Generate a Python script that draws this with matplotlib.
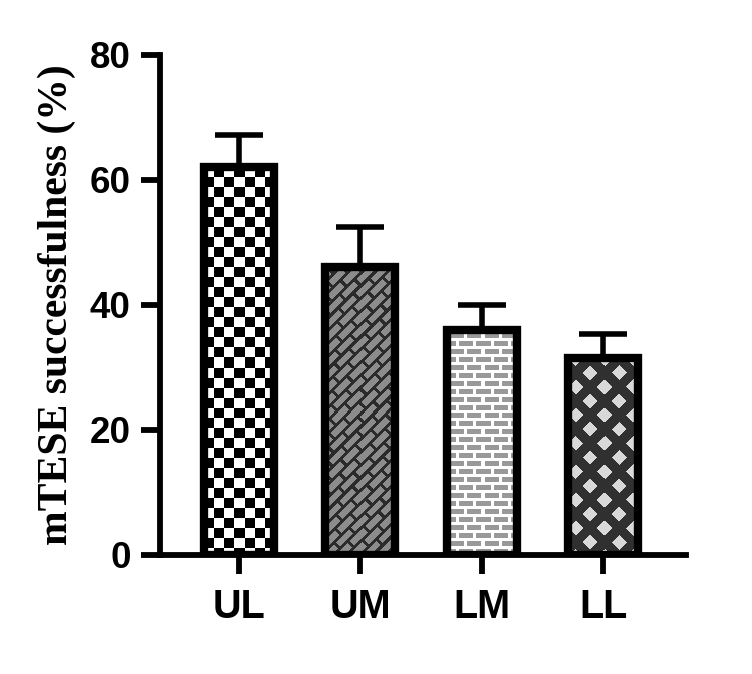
import numpy as np
import matplotlib
matplotlib.use("Agg")
import matplotlib.pyplot as plt

# data ---------------------------------------------------------------
regions = ["UL", "UM", "LM", "LL"]
success = [62, 46, 36, 31.5]
sem = [5.2, 6.5, 4.0, 3.8]
y_ticks = [0, 20, 40, 60, 80]


# fill patterns (pixel based) ----------------------------------------
def checker(h, w, cell=10):
    r, c = np.mgrid[0:h, 0:w]
    dark = ((r // cell + c // cell) % 2) == 1
    img = np.ones((h, w, 3))
    img[dark] = 0.0
    return img


def diag_bricks(h, w, L=21, H=9, t=3):
    r, c = np.mgrid[0:h, 0:w].astype(float)
    a = (c - r) / np.sqrt(2)
    b = (c + r) / np.sqrt(2)
    k = np.floor(b / H)
    fb = b % H
    fa = (a + k * L / 2) % L
    dark = (fb < t) | (fa < t)
    img = np.empty((h, w, 3))
    img[:] = 0.55
    img[dark] = 0.17
    return img


def h_bricks(h, w, L=17, H=8, tw=3, th=3):
    r, c = np.mgrid[0:h, 0:w]
    k = r // H
    fr = r % H
    fc = (c + (k % 2) * (L // 2)) % L
    mortar = (fr < th) | (fc < tw)
    img = np.empty((h, w, 3))
    img[:] = 0.60
    img[mortar] = 1.0
    return img


def diamonds(h, w, p=20, s=10.5):
    r, c = np.mgrid[0:h, 0:w].astype(float)
    a = (c + r) / np.sqrt(2)
    b = (c - r) / np.sqrt(2)
    light = ((a % p) < s) & ((b % p) < s)
    img = np.empty((h, w, 3))
    img[:] = 0.19
    img[light] = 0.85
    return img


patterns = [checker, diag_bricks, h_bricks, diamonds]

plt.rcParams["font.family"] = ["Liberation Sans", "DejaVu Sans"]

fig = plt.figure(figsize=(7.52, 6.74), dpi=100)
ax = fig.add_axes([0.2128, 0.1766, 0.6995, 0.7418])

x = np.arange(len(regions))
bars = ax.bar(x, success, width=0.577, facecolor="none", edgecolor="black",
              linewidth=6, zorder=3)
ax.errorbar(x, success, yerr=[np.zeros(len(sem)), sem], fmt="none",
            ecolor="black", elinewidth=4, capsize=17.5, capthick=4, zorder=2)

ax.set_xlim(-0.651, 3.684)
ax.set_ylim(0, 80)

# pattern images clipped to each bar
fig.canvas.draw()
for bar, pat in zip(bars, patterns):
    x0, y0 = bar.get_x(), bar.get_y()
    x1, y1 = x0 + bar.get_width(), y0 + bar.get_height()
    p0 = ax.transData.transform((x0, y0))
    p1 = ax.transData.transform((x1, y1))
    w = int(round(abs(p1[0] - p0[0])))
    h = int(round(abs(p1[1] - p0[1])))
    img = pat(h, w)
    im = ax.imshow(img, extent=(x0, x1, y0, y1), origin="upper",
                   interpolation="nearest", aspect="auto", zorder=2.5)
    im.set_clip_path(bar)

ax.set_xlim(-0.651, 3.684)
ax.set_ylim(0, 80)

for side in ["top", "right"]:
    ax.spines[side].set_visible(False)
for side in ["left", "bottom"]:
    ax.spines[side].set_linewidth(4.2)

ax.set_yticks(y_ticks)
ax.set_xticks(x)
ax.set_xticklabels(regions)
ax.tick_params(axis="both", length=14, width=4.2, pad=7)
ax.tick_params(axis="y", labelsize=26.5)
ax.tick_params(axis="x", labelsize=28.5, pad=10)
for lab in ax.get_xticklabels() + ax.get_yticklabels():
    lab.set_fontweight("bold")

ax.set_ylabel("mTESE successfulness (%)", fontsize=30, fontweight="bold",
              family=["Liberation Serif", "DejaVu Serif"], labelpad=10)

fig.savefig("out.png", dpi=100)
